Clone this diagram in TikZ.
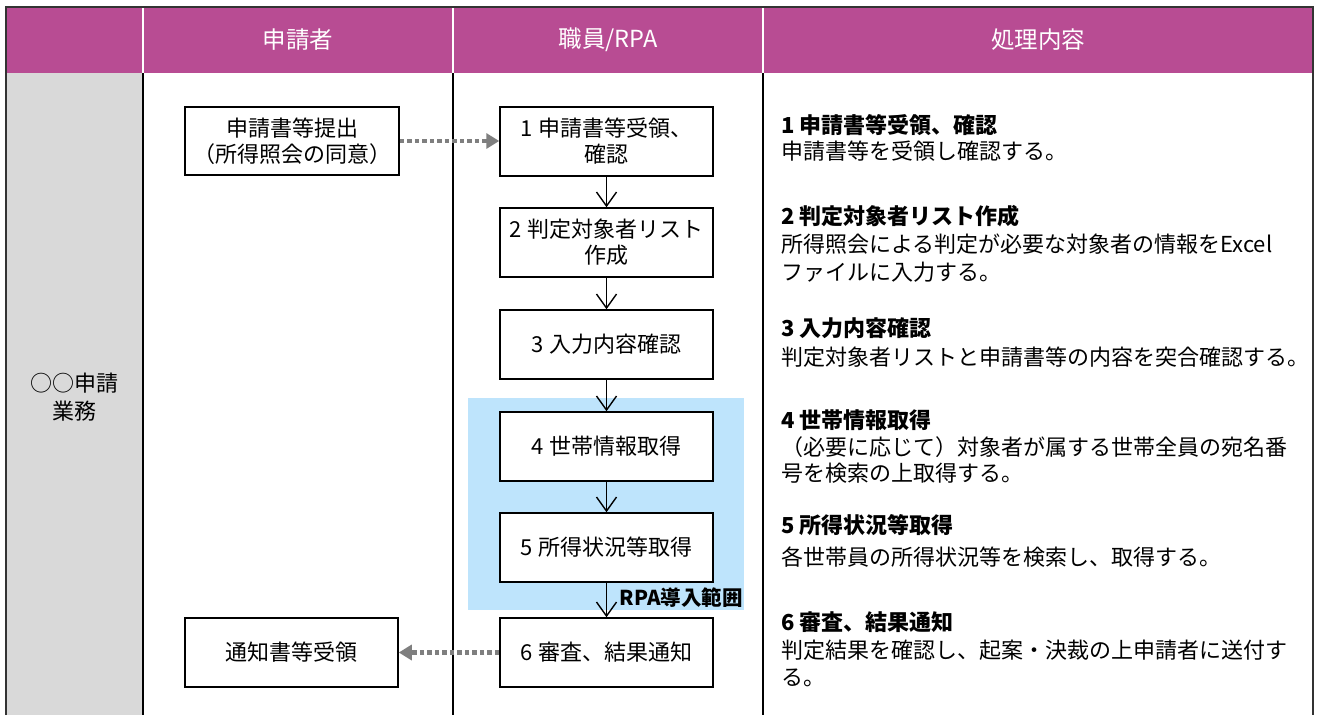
\documentclass[tikz,border=0pt]{standalone}
\usepackage{fontspec}
\setmainfont{Noto Sans CJK JP}
\usetikzlibrary{arrows.meta}
\definecolor{hdr}{RGB}{184,76,147}
\definecolor{lgray}{RGB}{217,217,217}
\definecolor{rpablue}{RGB}{190,228,252}
\definecolor{dotgray}{RGB}{127,127,127}
\begin{document}
\begin{tikzpicture}[x=1pt,y=-1pt,
 box/.style={draw=black, line width=1.5pt, fill=white, minimum width=213pt, minimum height=69pt, inner sep=0pt, align=center, font=\fontsize{22}{26}\selectfont},
 hdrtext/.style={text=white, inner sep=0pt, font=\fontsize{23.5}{26}\selectfont},
 flow/.style={-{Straight Barb[length=14pt,width=20pt,line width=1.4pt]}, line width=1.4pt},
 dotarrow/.style={dotgray, line width=4.5pt, dash pattern=on 4.5pt off 3pt, -{Triangle[length=13pt,width=15pt]}},
 desc/.style={anchor=west, inner sep=0pt, font=\fontsize{22}{26}\selectfont},
 deschead/.style={anchor=west, inner sep=0pt, font=\fontsize{22}{26}\selectfont\bfseries}]
\useasboundingbox (0,0) rectangle (1317,715);
\fill[white] (0,0) rectangle (1317,715);
% header band and side column
\fill[hdr] (6,7) rectangle (1313,73);
\fill[lgray] (6,73) rectangle (143,715);
\fill[rpablue] (468,398) rectangle (744,610);
% separators
\draw[white, line width=1.5pt] (143,7) -- (143,73) (453,7) -- (453,73) (763,7) -- (763,73);
\draw[black, line width=1.5pt] (143,73) -- (143,715) (453,73) -- (453,715) (763,73) -- (763,715);
\draw[black!80, line width=2pt] (6,715) -- (6,7) -- (1313,7) -- (1313,715);
% header labels
\node[hdrtext] (h1) at (298,40) {申請者};
\node[hdrtext] (h2) at (608,40) {職員/RPA};
\node[hdrtext] (h3) at (1038,40) {処理内容};
% side label
\node[align=center, inner sep=0pt, font=\fontsize{22}{28}\selectfont] (side) at (74,397) {○○申請\\業務};
% applicant boxes
\node[box, minimum width=214pt, minimum height=68pt] (apply) at (292,141) {申請書等提出\\（所得照会の同意）};
\node[box, minimum width=213pt] (recv) at (291.5,652.5) {通知書等受領};
% staff boxes
\node[box] (b1) at (606.5,141.5) {1 申請書等受領、\\確認};
\node[box] (b2) at (606.5,242.5) {2 判定対象者リスト\\作成};
\node[box] (b3) at (606.5,344.5) {3 入力内容確認};
\node[box] (b4) at (606.5,446.5) {4 世帯情報取得};
\node[box] (b5) at (606.5,547.5) {5 所得状況等取得};
\node[box] (b6) at (606.5,652.5) {6 審査、結果通知};
\node[anchor=east, inner sep=0pt, font=\fontsize{20.5}{24}\selectfont\bfseries] (rpa) at (743,598) {RPA導入範囲};
% flows
\draw[flow] (b1) -- (b2);
\draw[flow] (b2) -- (b3);
\draw[flow] (b3) -- (b4);
\draw[flow] (b4) -- (b5);
\draw[flow] (b5) -- (b6);
\draw[dotarrow] (apply.east) -- (b1.west |- apply.east);
\draw[dotarrow] (b6.west) -- (recv.east);
% descriptions
\node[deschead] (d1h) at (781,125) {1 申請書等受領、確認};
\node[desc] (d1a) at (781,151) {申請書等を受領し確認する。};
\node[deschead] (d2h) at (781,216) {2 判定対象者リスト作成};
\node[desc] (d2a) at (781,244) {所得照会による判定が必要な対象者の情報をExcel};
\node[desc] (d2b) at (781,272) {ファイルに入力する。};
\node[deschead] (d3h) at (781,328) {3 入力内容確認};
\node[desc] (d3a) at (781,357) {判定対象者リストと申請書等の内容を突合確認する。};
\node[deschead] (d4h) at (781,420) {4 世帯情報取得};
\node[desc] (d4a) at (781,447) {（必要に応じて）対象者が属する世帯全員の宛名番};
\node[desc] (d4b) at (781,473) {号を検索の上取得する。};
\node[deschead] (d5h) at (781,525) {5 所得状況等取得};
\node[desc] (d5a) at (781,557) {各世帯員の所得状況等を検索し、取得する。};
\node[deschead] (d6h) at (781,622) {6 審査、結果通知};
\node[desc] (d6a) at (781,650) {判定結果を確認し、起案・決裁の上申請者に送付す};
\node[desc] (d6b) at (781,678) {る。};
\end{tikzpicture}
\end{document}
